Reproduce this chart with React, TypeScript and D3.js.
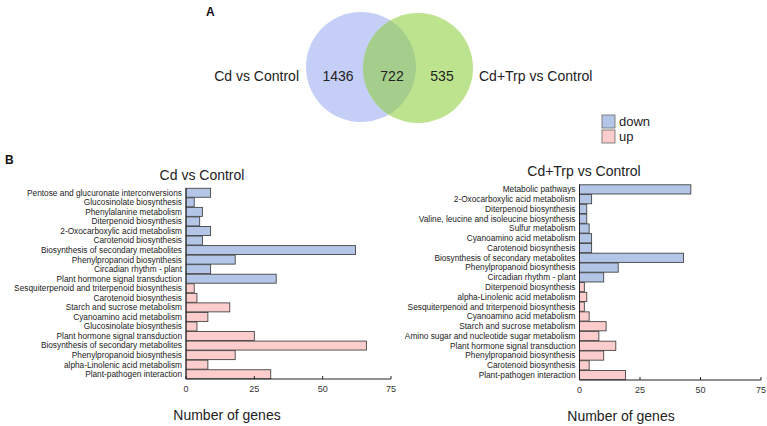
import React from "react";
import * as d3 from "d3";

const vennLabels = ["Cd vs Control", "Cd+Trp vs Control"];
const vennCounts = [1436, 722, 535];

const leftTitle = "Cd vs Control";
const leftCategories = [
  "Pentose and glucuronate interconversions",
  "Glucosinolate biosynthesis",
  "Phenylalanine metabolism",
  "Diterpenoid biosynthesis",
  "2-Oxocarboxylic acid metabolism",
  "Carotenoid biosynthesis",
  "Biosynthesis of secondary metabolites",
  "Phenylpropanoid biosynthesis",
  "Circadian rhythm - plant",
  "Plant hormone signal transduction",
  "Sesquiterpenoid and triterpenoid biosynthesis",
  "Carotenoid biosynthesis",
  "Starch and sucrose metabolism",
  "Cyanoamino acid metabolism",
  "Glucosinolate biosynthesis",
  "Plant hormone signal transduction",
  "Biosynthesis of secondary metabolites",
  "Phenylpropanoid biosynthesis",
  "alpha-Linolenic acid metabolism",
  "Plant-pathogen interaction",
];
const leftValues = [9, 3, 6, 5, 9, 6, 62, 18, 9, 33, 3, 4, 16, 8, 4, 25, 66, 18, 8, 31];
const leftDirection = ["down","down","down","down","down","down","down","down","down","down","up","up","up","up","up","up","up","up","up","up"];

const rightTitle = "Cd+Trp vs Control";
const rightCategories = [
  "Metabolic pathways",
  "2-Oxocarboxylic acid metabolism",
  "Diterpenoid biosynthesis",
  "Valine, leucine and isoleucine biosynthesis",
  "Sulfur metabolism",
  "Cyanoamino acid metabolism",
  "Carotenoid biosynthesis",
  "Biosynthesis of secondary metabolites",
  "Phenylpropanoid biosynthesis",
  "Circadian rhythm - plant",
  "Diterpenoid biosynthesis",
  "alpha-Linolenic acid metabolism",
  "Sesquiterpenoid and triterpenoid biosynthesis",
  "Cyanoamino acid metabolism",
  "Starch and sucrose metabolism",
  "Amino sugar and nucleotide sugar metabolism",
  "Plant hormone signal transduction",
  "Phenylpropanoid biosynthesis",
  "Carotenoid biosynthesis",
  "Plant-pathogen interaction",
];
const rightValues = [46, 5, 3, 3, 4, 5, 5, 43, 16, 10, 2, 3, 2, 4, 11, 8, 15, 10, 4, 19];
const rightDirection = ["down","down","down","down","down","down","down","down","down","down","up","up","up","up","up","up","up","up","up","up"];

const xTicks = [0, 25, 50, 75];
const legendItems = ["down", "up"];
const xLabel = "Number of genes";

const FONT = "'Liberation Sans', Arial, Helvetica, sans-serif";
const colors: Record<string, string> = { down: "#b4c6e7", up: "#fdcdcd" };

type PanelProps = {
  title: string;
  cats: string[];
  vals: number[];
  dirs: string[];
  x0: number;
  x1: number;
  y0: number;
  y1: number;
  titleX: number;
  titleY: number;
  labelX: number;
};

function Panel({ title, cats, vals, dirs, x0, x1, y0, y1, titleX, titleY, labelX }: PanelProps) {
  const idx = cats.map((_, i) => String(i));
  const y = d3.scaleBand<string>().domain(idx).range([y0, y1]).paddingInner(0.06).paddingOuter(0.03);
  const x = d3.scaleLinear().domain([0, 75]).range([x0, x1]);
  return (
    <g fontFamily={FONT}>
      <text x={titleX} y={titleY} fontSize={14} textAnchor="middle" fill="#222">{title}</text>
      {cats.map((c, i) => (
        <g key={i}>
          <rect
            x={x(0)}
            y={y(String(i))!}
            width={x(vals[i]) - x(0)}
            height={y.bandwidth()}
            fill={colors[dirs[i]]}
            stroke="#444"
            strokeWidth={0.9}
          />
          <text
            x={x0 - 4}
            y={y(String(i))! + y.bandwidth() / 2}
            dy="0.35em"
            fontSize={8.3}
            textAnchor="end"
            fill="#222"
          >
            {c}
          </text>
        </g>
      ))}
      <line x1={x0} x2={x0} y1={y0} y2={y1} stroke="#222" strokeWidth={1} />
      <line x1={x0} x2={x1} y1={y1} y2={y1} stroke="#222" strokeWidth={1} />
      {xTicks.map((t) => (
        <g key={t}>
          <line x1={x(t)} x2={x(t)} y1={y1} y2={y1 - 3} stroke="#222" strokeWidth={1} />
          <text x={x(t)} y={y1 + 10} dy="0.35em" fontSize={9} textAnchor="middle" fill="#333">{t}</text>
        </g>
      ))}
      <text x={labelX} y={y1 + 36} dy="0.35em" fontSize={14} textAnchor="middle" fill="#222">{xLabel}</text>
    </g>
  );
}

export default function App() {
  const lc = { x: 361, y: 67, r: 55 };
  const rc = { x: 418, y: 68, r: 55 };
  return (
    <svg width={767} height={426} style={{ position: "absolute", left: 0, top: 0, background: "#fff" }}>
      <defs>
        <clipPath id="leftClip">
          <circle cx={lc.x} cy={lc.y} r={lc.r} />
        </clipPath>
      </defs>
      <text x={206} y={16} fontSize={12} fontWeight="bold" fontFamily={FONT} fill="#111">A</text>
      <circle cx={lc.x} cy={lc.y} r={lc.r} fill="#c4cef6" />
      <circle cx={rc.x} cy={rc.y} r={rc.r} fill="#bde38f" />
      <circle cx={rc.x} cy={rc.y} r={rc.r} fill="#a5cd8b" clipPath="url(#leftClip)" />
      <g fontFamily={FONT} fontSize={14} fill="#222">
        <text x={299} y={76} dy="0.35em" textAnchor="end">{vennLabels[0]}</text>
        <text x={338} y={76} dy="0.35em" textAnchor="middle">{vennCounts[0]}</text>
        <text x={392} y={76} dy="0.35em" textAnchor="middle">{vennCounts[1]}</text>
        <text x={442} y={76} dy="0.35em" textAnchor="middle">{vennCounts[2]}</text>
        <text x={479} y={76} dy="0.35em" textAnchor="start">{vennLabels[1]}</text>
      </g>
      <g fontFamily={FONT}>
        {legendItems.map((d, i) => (
          <g key={d}>
            <rect x={602} y={115 + i * 15} width={13} height={13} fill={colors[d]} stroke="#666" strokeWidth={0.8} />
            <text x={619} y={121.5 + i * 15} dy="0.35em" fontSize={13} fill="#222">{d}</text>
          </g>
        ))}
      </g>
      <text x={5} y={164} fontSize={12} fontWeight="bold" fontFamily={FONT} fill="#111">B</text>
      <Panel
        title={leftTitle}
        cats={leftCategories}
        vals={leftValues}
        dirs={leftDirection}
        x0={186}
        x1={391}
        y0={188}
        y1={379}
        titleX={202}
        titleY={180}
        labelX={227}
      />
      <Panel
        title={rightTitle}
        cats={rightCategories}
        vals={rightValues}
        dirs={rightDirection}
        x0={579.5}
        x1={761}
        y0={184.5}
        y1={380}
        titleX={584}
        titleY={176}
        labelX={621}
      />
    </svg>
  );
}
